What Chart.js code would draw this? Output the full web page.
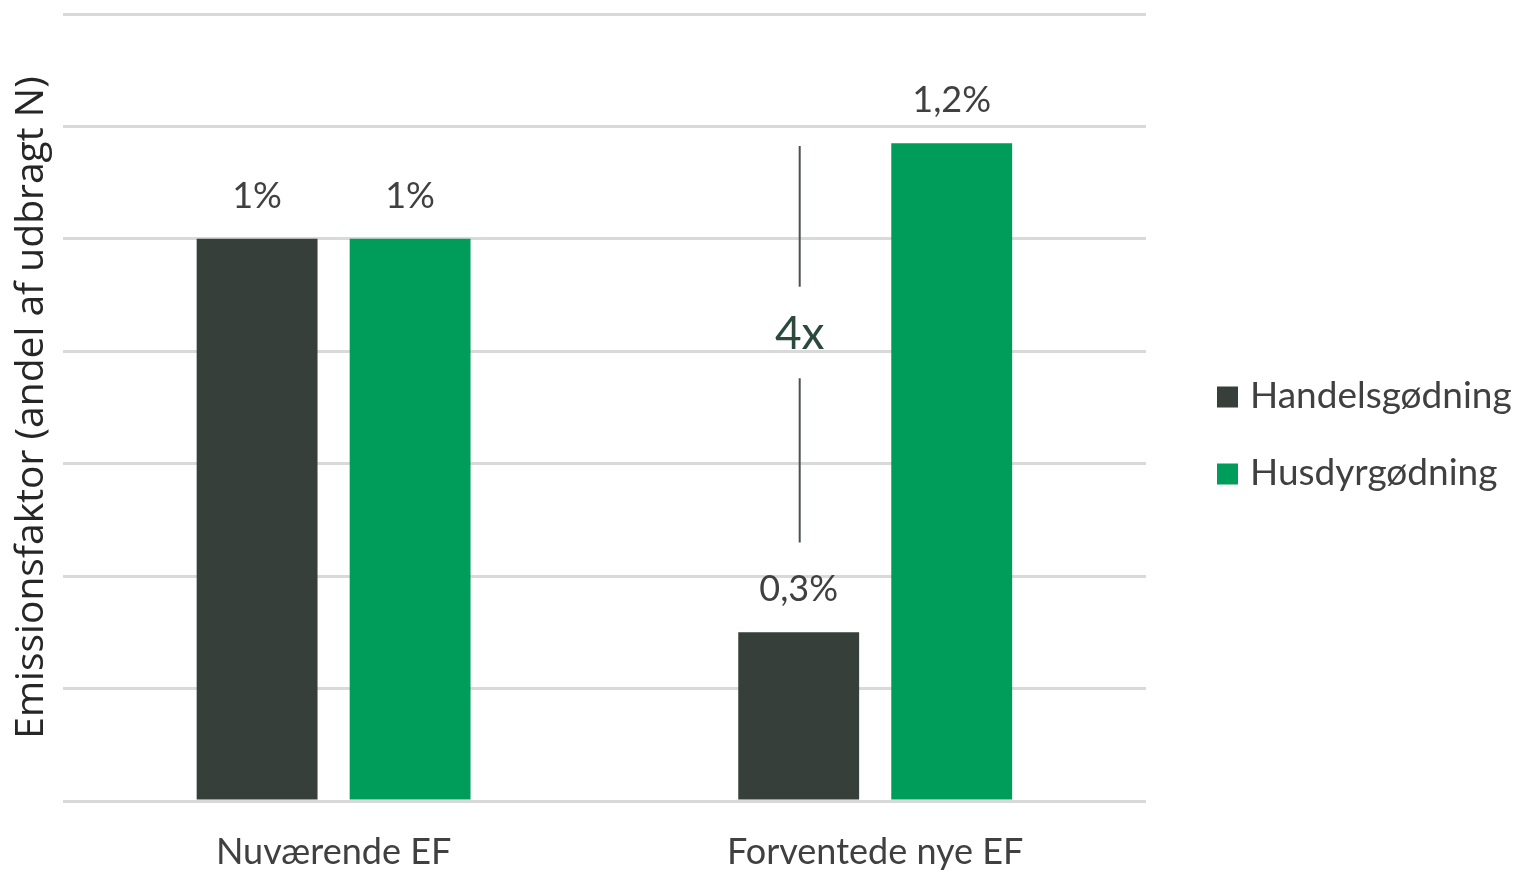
<!DOCTYPE html>
<html lang="da">
  <head>
    <meta charset="UTF-8" />
    <title>Emissionsfaktor</title>
    <style>
      html, body { margin: 0; padding: 0; background: #fff; }
      .chart-box { width: 1517px; height: 872px; }
    </style>
  </head>
  <body>
    <div class="chart-box"><canvas id="mychart"></canvas></div>

    <script src="https://cdn.jsdelivr.net/npm/chart.js@4/dist/chart.umd.min.js"></script>
    <script>
      // data
      const categories = ["Nuværende EF", "Forventede nye EF"];
      const seriesNames = ["Handelsgødning", "Husdyrgødning"];
      const handel = [1.0, 0.3];
      const husdyr = [1.0, 1.17];
      const handelLabels = ["1%", "0,3%"];
      const husdyrLabels = ["1%", "1,2%"];
      const yTitle = "Emissionsfaktor (andel af udbragt N)";
      const ratioText = "4x";

      const colors = ["#363f3a", "#009c59"];
      const font = "Lato, 'Open Sans', sans-serif";

      // labels above each bar
      const valueLabels = {
        id: "valueLabels",
        afterDatasetsDraw(chart) {
          const ctx = chart.ctx;
          const texts = [handelLabels, husdyrLabels];
          ctx.save();
          ctx.font = "36px " + font;
          ctx.fillStyle = "#404040";
          ctx.textAlign = "center";
          ctx.textBaseline = "alphabetic";
          chart.data.datasets.forEach((ds, di) => {
            chart.getDatasetMeta(di).data.forEach((bar, i) => {
              ctx.fillText(texts[di][i], bar.x, bar.y - 31);
            });
          });
          ctx.restore();
        },
      };

      // "4x" marker over the second group
      const ratioMark = {
        id: "ratioMark",
        afterDatasetsDraw(chart) {
          const ctx = chart.ctx;
          const y = chart.scales.y;
          const bar = chart.getDatasetMeta(0).data[1];
          const x = bar.x + 1;
          ctx.save();
          ctx.strokeStyle = "#4a524d";
          ctx.lineWidth = 2;
          ctx.beginPath();
          ctx.moveTo(x, y.getPixelForValue(1.165));
          ctx.lineTo(x, y.getPixelForValue(0.915));
          ctx.moveTo(x, y.getPixelForValue(0.752));
          ctx.lineTo(x, y.getPixelForValue(0.46));
          ctx.stroke();
          ctx.font = "46px " + font;
          ctx.fillStyle = "#2b4a3d";
          ctx.textAlign = "center";
          ctx.textBaseline = "middle";
          ctx.fillText(ratioText, x, y.getPixelForValue(0.83));
          ctx.restore();
        },
      };

      // legend on the right, next to the plot
      const sideLegend = {
        id: "sideLegend",
        afterDraw(chart) {
          const ctx = chart.ctx;
          const area = chart.chartArea;
          const x = area.right + 71;
          const y0 = (area.top + area.bottom) / 2 - 11;
          ctx.save();
          ctx.font = "37px " + font;
          ctx.textBaseline = "middle";
          chart.data.datasets.forEach((ds, i) => {
            const y = y0 + i * 77;
            ctx.fillStyle = ds.backgroundColor;
            ctx.fillRect(x, y - 10, 21, 21);
            ctx.fillStyle = "#404040";
            ctx.fillText(ds.label, x + 33, y);
          });
          ctx.restore();
        },
      };

      new Chart(document.getElementById("mychart"), {
        type: "bar",
        data: {
          labels: categories,
          datasets: [
            {
              label: seriesNames[0],
              data: handel,
              backgroundColor: colors[0],
              categoryPercentage: 0.565,
              barPercentage: 0.79,
            },
            {
              label: seriesNames[1],
              data: husdyr,
              backgroundColor: colors[1],
              categoryPercentage: 0.565,
              barPercentage: 0.79,
            },
          ],
        },
        options: {
          responsive: true,
          maintainAspectRatio: false,
          animation: false,
          layout: { padding: { top: 14, right: 371, left: 8, bottom: 0 } },
          plugins: {
            tooltip: { enabled: false },
            legend: { display: false },
          },
          scales: {
            x: {
              grid: { display: false },
              border: { display: false },
              ticks: {
                font: { family: font, size: 36 },
                color: "#404040",
                padding: 22,
              },
              afterFit(scale) {
                scale.height = 71;
              },
            },
            y: {
              min: 0,
              max: 1.4,
              ticks: { display: false, stepSize: 0.2 },
              grid: { color: "#d9d9d9", lineWidth: 3, drawTicks: false },
              border: { display: false },
              title: {
                display: true,
                text: yTitle,
                font: { family: "'Open Sans', sans-serif", size: 39 },
                color: "#262626",
                padding: { top: 0, bottom: 8 },
              },
            },
          },
        },
        plugins: [valueLabels, ratioMark, sideLegend],
      });
    </script>
  </body>
</html>
